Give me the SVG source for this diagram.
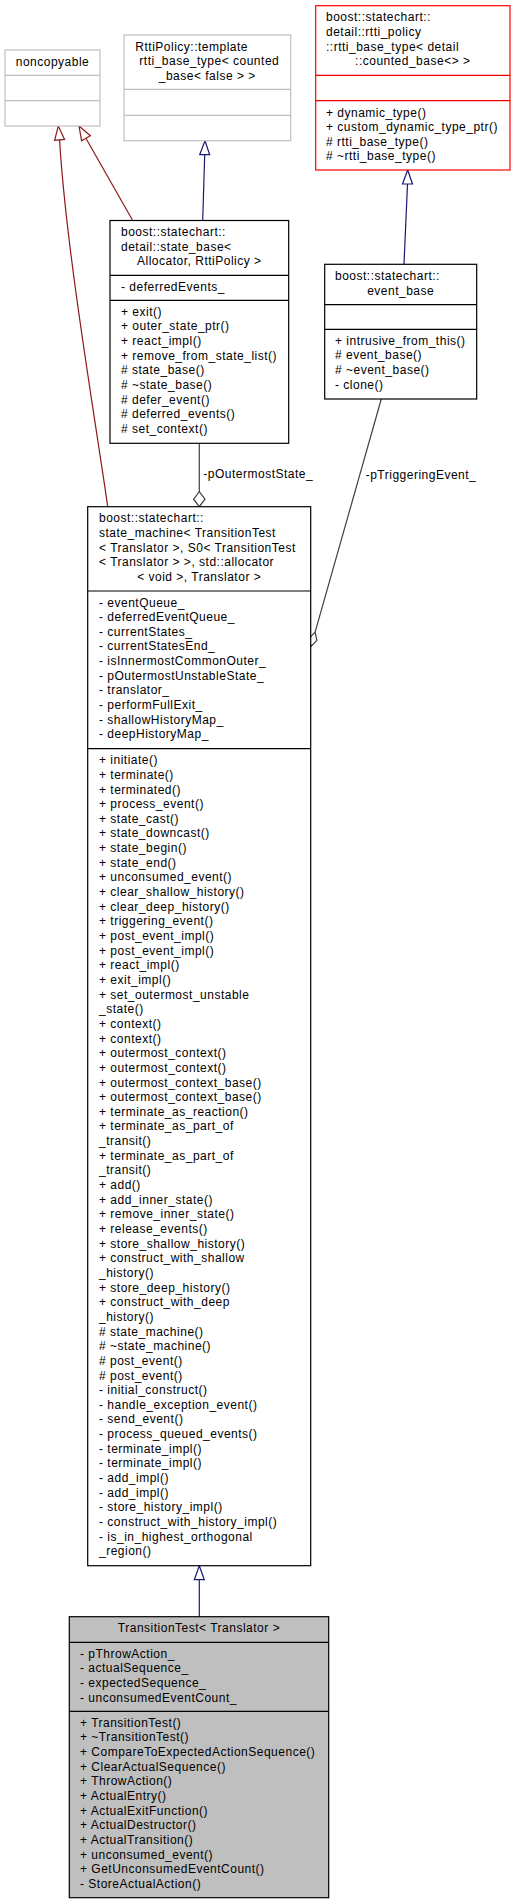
<svg xmlns="http://www.w3.org/2000/svg" width="515" height="1904" viewBox="0 0 515 1904">
<style>
text{font-family:"Liberation Sans",Arial,Helvetica,sans-serif;font-size:12px;letter-spacing:0.5px;fill:#000}
.c{text-anchor:middle}
.box{fill:#fff;stroke:#000;stroke-width:1.2}
.gbox{fill:#fff;stroke:#bfbfbf;stroke-width:1.2}
.rbox{fill:#fff;stroke:#ff0000;stroke-width:1.2}
.tbox{fill:#bfbfbf;stroke:#000;stroke-width:1.2}
.dk{stroke:#000;stroke-width:1.2}
.dg{stroke:#bfbfbf;stroke-width:1.2}
.dr{stroke:#ff0000;stroke-width:1.2}
.priv{fill:none;stroke:#8b1a1a;stroke-width:1.2}
.privh{fill:#fff;stroke:#8b1a1a;stroke-width:1.2}
.pub{fill:none;stroke:#191970;stroke-width:1.2}
.pubh{fill:#fff;stroke:#191970;stroke-width:1.2}
.use{fill:none;stroke:#404040;stroke-width:1.2}
.useh{fill:#fff;stroke:#404040;stroke-width:1.2}
</style>

<g id="edges">
<path class="priv" d="M59.6,139.9 C66,250 97,430 107.7,506.7"/>
<polygon class="privh" points="58.3,126 64.6,139.4 54.6,140.4"/>
<path class="priv" d="M85.9,138.2 L132.7,220.5"/>
<polygon class="privh" points="79,126 90.3,135.7 81.6,140.7"/>
<path class="pub" d="M204.7,154.7 L202.7,220.5"/>
<polygon class="pubh" points="205,140.7 209.7,154.7 199.7,154.7"/>
<path class="pub" d="M407.5,184 L404,264.3"/>
<polygon class="pubh" points="407.7,170 412.5,184 402.5,184"/>
<path class="use" d="M199.3,443.3 L199.3,491.7"/>
<polygon class="useh" points="199.3,491.7 205,499.2 199.3,506.7 193.6,499.2"/>
<text x="203.3" y="478.3">-pOutermostState_</text>
<path class="use" d="M381.3,399 L315.1,632.1"/>
<polygon class="useh" points="315.1,632.1 316.9,640.4 311,646.5 309.2,638.2"/>
<text x="365.7" y="479.3">-pTriggeringEvent_</text>
<path class="pub" d="M199.3,1579.7 L199.3,1616.7"/>
<polygon class="pubh" points="199.3,1565.7 204.3,1579.7 194.3,1579.7"/>
</g>

<g id="noncopyable">
<rect class="gbox" x="5" y="50" width="95" height="76"/>
<line class="dg" x1="5" y1="75.3" x2="100" y2="75.3"/>
<line class="dg" x1="5" y1="100.7" x2="100" y2="100.7"/>
<text class="c" x="52.5" y="65.5">noncopyable</text>
</g>

<g id="rttipolicy">
<rect class="gbox" x="124" y="35" width="166.7" height="105.7"/>
<line class="dg" x1="124" y1="89.3" x2="290.7" y2="89.3"/>
<line class="dg" x1="124" y1="115.3" x2="290.7" y2="115.3"/>
<text x="135.3" y="50.7">RttiPolicy::template</text>
<text x="139.3" y="65.3">rtti_base_type&lt; counted</text>
<text class="c" x="207.3" y="80">_base&lt; false &gt; &gt;</text>
</g>

<g id="rtti_base_type">
<rect class="rbox" x="315.7" y="5.7" width="194.3" height="164.3"/>
<line class="dr" x1="315.7" y1="75.3" x2="510" y2="75.3"/>
<line class="dr" x1="315.7" y1="100.7" x2="510" y2="100.7"/>
<text x="326" y="21.2">boost::statechart::</text>
<text x="326" y="35.9">detail::rtti_policy</text>
<text x="326" y="50.5">::rtti_base_type&lt; detail</text>
<text class="c" x="412.8" y="65.2">::counted_base&lt;&gt; &gt;</text>
<text x="326" y="116.5">+ dynamic_type()</text>
<text x="326" y="131.1">+ custom_dynamic_type_ptr()</text>
<text x="326" y="145.8"># rtti_base_type()</text>
<text x="326" y="160.4"># ~rtti_base_type()</text>
</g>

<g id="state_base">
<rect class="box" x="110" y="220.5" width="178.7" height="222.8"/>
<line class="dk" x1="110" y1="275.3" x2="288.7" y2="275.3"/>
<line class="dk" x1="110" y1="300.3" x2="288.7" y2="300.3"/>
<text x="121" y="236">boost::statechart::</text>
<text x="121" y="250.7">detail::state_base&lt;</text>
<text class="c" x="199.3" y="265.3">Allocator, RttiPolicy &gt;</text>
<text x="121" y="290.8">- deferredEvents_</text>
<text x="121" y="315.8">+ exit()<tspan x="121" dy="14.65">+ outer_state_ptr()</tspan><tspan x="121" dy="14.65">+ react_impl()</tspan><tspan x="121" dy="14.65">+ remove_from_state_list()</tspan><tspan x="121" dy="14.65"># state_base()</tspan><tspan x="121" dy="14.65"># ~state_base()</tspan><tspan x="121" dy="14.65"># defer_event()</tspan><tspan x="121" dy="14.65"># deferred_events()</tspan><tspan x="121" dy="14.65"># set_context()</tspan></text>
</g>

<g id="event_base">
<rect class="box" x="324.7" y="264.3" width="152" height="134.7"/>
<line class="dk" x1="324.7" y1="304.7" x2="476.7" y2="304.7"/>
<line class="dk" x1="324.7" y1="329.3" x2="476.7" y2="329.3"/>
<text x="335" y="279.8">boost::statechart::</text>
<text class="c" x="400.7" y="294.5">event_base</text>
<text x="335" y="344.8">+ intrusive_from_this()<tspan x="335" dy="14.65"># event_base()</tspan><tspan x="335" dy="14.65"># ~event_base()</tspan><tspan x="335" dy="14.65">- clone()</tspan></text>
</g>

<g id="state_machine">
<rect class="box" x="87.7" y="506.7" width="223" height="1059"/>
<line class="dk" x1="87.7" y1="591" x2="310.7" y2="591"/>
<line class="dk" x1="87.7" y1="748.7" x2="310.7" y2="748.7"/>
<text x="99" y="522.2">boost::statechart::<tspan x="99" dy="14.65">state_machine&lt; TransitionTest</tspan><tspan x="99" dy="14.65">&lt; Translator &gt;, S0&lt; TransitionTest</tspan><tspan x="99" dy="14.65">&lt; Translator &gt; &gt;, std::allocator</tspan></text>
<text class="c" x="199.2" y="580.8">&lt; void &gt;, Translator &gt;</text>
<text x="99" y="606.5">- eventQueue_<tspan x="99" dy="14.65">- deferredEventQueue_</tspan><tspan x="99" dy="14.65">- currentStates_</tspan><tspan x="99" dy="14.65">- currentStatesEnd_</tspan><tspan x="99" dy="14.65">- isInnermostCommonOuter_</tspan><tspan x="99" dy="14.65">- pOutermostUnstableState_</tspan><tspan x="99" dy="14.65">- translator_</tspan><tspan x="99" dy="14.65">- performFullExit_</tspan><tspan x="99" dy="14.65">- shallowHistoryMap_</tspan><tspan x="99" dy="14.65">- deepHistoryMap_</tspan></text>
<text x="99" y="764.2">+ initiate()<tspan x="99" dy="14.65">+ terminate()</tspan><tspan x="99" dy="14.65">+ terminated()</tspan><tspan x="99" dy="14.65">+ process_event()</tspan><tspan x="99" dy="14.65">+ state_cast()</tspan><tspan x="99" dy="14.65">+ state_downcast()</tspan><tspan x="99" dy="14.65">+ state_begin()</tspan><tspan x="99" dy="14.65">+ state_end()</tspan><tspan x="99" dy="14.65">+ unconsumed_event()</tspan><tspan x="99" dy="14.65">+ clear_shallow_history()</tspan><tspan x="99" dy="14.65">+ clear_deep_history()</tspan><tspan x="99" dy="14.65">+ triggering_event()</tspan><tspan x="99" dy="14.65">+ post_event_impl()</tspan><tspan x="99" dy="14.65">+ post_event_impl()</tspan><tspan x="99" dy="14.65">+ react_impl()</tspan><tspan x="99" dy="14.65">+ exit_impl()</tspan><tspan x="99" dy="14.65">+ set_outermost_unstable</tspan><tspan x="99" dy="14.65">_state()</tspan><tspan x="99" dy="14.65">+ context()</tspan><tspan x="99" dy="14.65">+ context()</tspan><tspan x="99" dy="14.65">+ outermost_context()</tspan><tspan x="99" dy="14.65">+ outermost_context()</tspan><tspan x="99" dy="14.65">+ outermost_context_base()</tspan><tspan x="99" dy="14.65">+ outermost_context_base()</tspan><tspan x="99" dy="14.65">+ terminate_as_reaction()</tspan><tspan x="99" dy="14.65">+ terminate_as_part_of</tspan><tspan x="99" dy="14.65">_transit()</tspan><tspan x="99" dy="14.65">+ terminate_as_part_of</tspan><tspan x="99" dy="14.65">_transit()</tspan><tspan x="99" dy="14.65">+ add()</tspan><tspan x="99" dy="14.65">+ add_inner_state()</tspan><tspan x="99" dy="14.65">+ remove_inner_state()</tspan><tspan x="99" dy="14.65">+ release_events()</tspan><tspan x="99" dy="14.65">+ store_shallow_history()</tspan><tspan x="99" dy="14.65">+ construct_with_shallow</tspan><tspan x="99" dy="14.65">_history()</tspan><tspan x="99" dy="14.65">+ store_deep_history()</tspan><tspan x="99" dy="14.65">+ construct_with_deep</tspan><tspan x="99" dy="14.65">_history()</tspan><tspan x="99" dy="14.65"># state_machine()</tspan><tspan x="99" dy="14.65"># ~state_machine()</tspan><tspan x="99" dy="14.65"># post_event()</tspan><tspan x="99" dy="14.65"># post_event()</tspan><tspan x="99" dy="14.65">- initial_construct()</tspan><tspan x="99" dy="14.65">- handle_exception_event()</tspan><tspan x="99" dy="14.65">- send_event()</tspan><tspan x="99" dy="14.65">- process_queued_events()</tspan><tspan x="99" dy="14.65">- terminate_impl()</tspan><tspan x="99" dy="14.65">- terminate_impl()</tspan><tspan x="99" dy="14.65">- add_impl()</tspan><tspan x="99" dy="14.65">- add_impl()</tspan><tspan x="99" dy="14.65">- store_history_impl()</tspan><tspan x="99" dy="14.65">- construct_with_history_impl()</tspan><tspan x="99" dy="14.65">- is_in_highest_orthogonal</tspan><tspan x="99" dy="14.65">_region()</tspan></text>
</g>

<g id="TransitionTest">
<rect class="tbox" x="69.3" y="1616.7" width="259.4" height="281"/>
<line class="dk" x1="69.3" y1="1642.3" x2="328.7" y2="1642.3"/>
<line class="dk" x1="69.3" y1="1711.3" x2="328.7" y2="1711.3"/>
<text class="c" x="199" y="1632.2">TransitionTest&lt; Translator &gt;</text>
<text x="80" y="1657.8">- pThrowAction_<tspan x="80" dy="14.65">- actualSequence_</tspan><tspan x="80" dy="14.65">- expectedSequence_</tspan><tspan x="80" dy="14.65">- unconsumedEventCount_</tspan></text>
<text x="80" y="1726.8">+ TransitionTest()<tspan x="80" dy="14.65">+ ~TransitionTest()</tspan><tspan x="80" dy="14.65">+ CompareToExpectedActionSequence()</tspan><tspan x="80" dy="14.65">+ ClearActualSequence()</tspan><tspan x="80" dy="14.65">+ ThrowAction()</tspan><tspan x="80" dy="14.65">+ ActualEntry()</tspan><tspan x="80" dy="14.65">+ ActualExitFunction()</tspan><tspan x="80" dy="14.65">+ ActualDestructor()</tspan><tspan x="80" dy="14.65">+ ActualTransition()</tspan><tspan x="80" dy="14.65">+ unconsumed_event()</tspan><tspan x="80" dy="14.65">+ GetUnconsumedEventCount()</tspan><tspan x="80" dy="14.65">- StoreActualAction()</tspan></text>
</g>
</svg>
